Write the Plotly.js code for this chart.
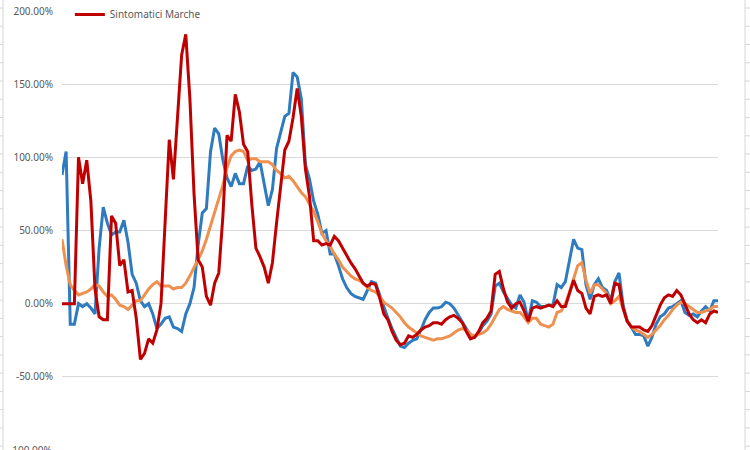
<!DOCTYPE html>
<html>
<head>
<meta charset="utf-8">
<script src="https://cdn.plot.ly/plotly-3.0.1.min.js"></script>
<style>html,body{margin:0;padding:0;background:#fff;}#chart{width:750px;height:450px;}</style>
</head>
<body>
<div id="chart"></div>
<script>
// Series values (percent), one value per period
const seriesBlue = [88,104,-14,-14,0,-2,0,-3,-7,38,66,55,47,49,49,57,42,20,14,2,
  -2,0,-7,-17,-14,-10,-9,-16,-17,-19,-7,0,11,40,62,65,104,120,116,98,
  86,80,89,82,82,94,91,92,97,82,67,78,106,117,128,130,158,155,140,95,
  85,70,61,48,50,34,34,26,17,11,7,5,4,3,9,15,14,6,-3,-10,
  -17,-23,-29,-30,-27,-25,-24,-18,-11,-6,-3,-3,-2,1,0,-3,-8,-13,-17,-21,
  -23,-20,-15,-12,-7,12,14,8,3,-1,-3,6,1,-12,2,1,-2,-2,-1,-1,
  13,11,15,29,44,38,37,13,3,13,17,11,9,2,15,21,-1,-12,-16,-21,
  -21,-22,-29,-23,-14,-9,-7,-3,-2,0,2,-6,-8,-7,-9,-5,-2,-5,2,2];

const seriesOrange = [44,26,13,9,6,7,8,10,13,12,8,5,6,3,-1,-2,-4,-1,2,2,
  6,10,13,15,12,12,12,10,11,11,14,19,25,30,36,44,53,63,72,81,
  93,101,104,105,104,98,99,99,97,97,97,95,91,89,86,87,84,80,76,73,
  68,63,56,48,43,39,34,30,25,22,19,17,16,14,11,9,8,5,1,-1,
  -3,-6,-9,-13,-16,-18,-20,-22,-23,-24,-25,-24,-24,-23,-22,-20,-18,-17,-18,-21,
  -22,-21,-20,-18,-14,-9,-4,-2,-4,-5,-6,-6,-9,-13,-10,-10,-14,-15,-16,-14,
  -6,-5,0,8,17,26,28,16,7,13,13,10,7,0,2,5,-4,-12,-16,-18,
  -19,-21,-23,-21,-18,-15,-11,-8,-4,-1,1,0,-2,-4,-6,-6,-5,-4,-2,-2];

const seriesRed = [0,0,0,0,100,82,98,70,10,-9,-11,-11,60,55,26,30,8,9,-10,-38,
  -34,-24,-27,-18,0,60,112,85,125,170,184,140,75,30,25,5,-1,14,21,60,
  115,111,143,131,109,104,68,38,32,25,14,28,55,80,105,111,127,147,128,92,
  73,43,43,40,41,40,46,43,38,32,28,24,19,14,12,14,13,4,-7,-11,
  -19,-25,-28,-27,-22,-23,-21,-18,-16,-15,-13,-13,-14,-11,-9,-8,-10,-13,-19,-24,
  -23,-19,-13,-10,-5,20,22,10,1,-3,0,1,-5,-12,-3,-2,-3,-2,-1,-2,
  2,-2,-2,7,16,9,7,-3,-7,5,6,5,6,0,14,13,-3,-12,-16,-16,
  -16,-18,-19,-15,-8,-1,4,6,5,9,6,0,-7,-11,-13,-11,-13,-7,-5,-6];

const legendName = "Sintomatici Marche";
const yTicks = [-100, -50, 0, 50, 100, 150, 200];
const yTickText = yTicks.map(v => v.toFixed(2) + '%');

const xs = seriesBlue.map((_, i) => i);

const traces = [
  {x: xs, y: seriesBlue, type: 'scatter', mode: 'lines', name: 'blue', showlegend: false,
   line: {color: '#2E7BBF', width: 3}},
  {x: xs, y: seriesOrange, type: 'scatter', mode: 'lines', name: 'orange', showlegend: false,
   line: {color: '#EE9150', width: 3}},
  {x: xs, y: seriesRed, type: 'scatter', mode: 'lines', name: legendName, showlegend: true,
   line: {color: '#C00000', width: 3}}
];

// decorative spreadsheet cell borders at both edges
const plotH = 440, plotW = 656;
const shapes = [];
shapes.push({type:'line', xref:'paper', yref:'paper', x0:-59/plotW, x1:-59/plotW, y0:-0.1, y1:1.05, line:{color:'#D6D6D6', width:1}});
shapes.push({type:'line', xref:'paper', yref:'paper', x0:1+27/plotW, x1:1+27/plotW, y0:-0.1, y1:1.05, line:{color:'#D6D6D6', width:1}});
for (let k = 0; k < 25; k++) {
  const py = 7 + k * 18.3;
  const yp = 1 - (py - 10) / plotH;
  shapes.push({type:'line', xref:'paper', yref:'paper', x0:-62/plotW, x1:-59/plotW, y0:yp, y1:yp, line:{color:'#D6D6D6', width:1}});
  shapes.push({type:'line', xref:'paper', yref:'paper', x0:1+27/plotW, x1:1+32/plotW, y0:yp, y1:yp, line:{color:'#D6D6D6', width:1}});
}

// bottom tick label (-100%) sits on the figure's lower edge and is cut, as in the reference
const annotations = [{xref:'paper', yref:'y', x:0, y:yTicks[0], xanchor:'right', yanchor:'middle',
  xshift:-8, showarrow:false, text:yTickText[0], font:{size:10, color:'#595959'}}];

const layout = {
  width: 750, height: 450,
  margin: {l: 62, r: 32, t: 10, b: 0, pad: 0},
  paper_bgcolor: '#ffffff', plot_bgcolor: '#ffffff',
  font: {family: 'Noto Sans, Open Sans, sans-serif', size: 10, color: '#595959'},
  xaxis: {range: [0, seriesBlue.length - 1], showgrid: false, zeroline: false, showline: false,
          showticklabels: false, ticks: '', fixedrange: true},
  yaxis: {range: [-100, 200], tickmode: 'array', tickvals: yTicks.slice(1), ticktext: yTickText.slice(1),
          showgrid: true, gridcolor: '#D9D9D9', gridwidth: 1, zeroline: false, showline: false,
          ticks: '', ticklabelstandoff: 8, tickfont: {size: 10, color: '#595959'}},
  showlegend: true,
  legend: {x: 0.012, y: 1.025, xanchor: 'left', yanchor: 'top', bgcolor: 'rgba(0,0,0,0)',
           font: {size: 10, color: '#595959'}, itemwidth: 30},
  shapes: shapes,
  annotations: annotations
};

Plotly.newPlot('chart', traces, layout, {displayModeBar: false, staticPlot: true});
</script>
</body>
</html>
